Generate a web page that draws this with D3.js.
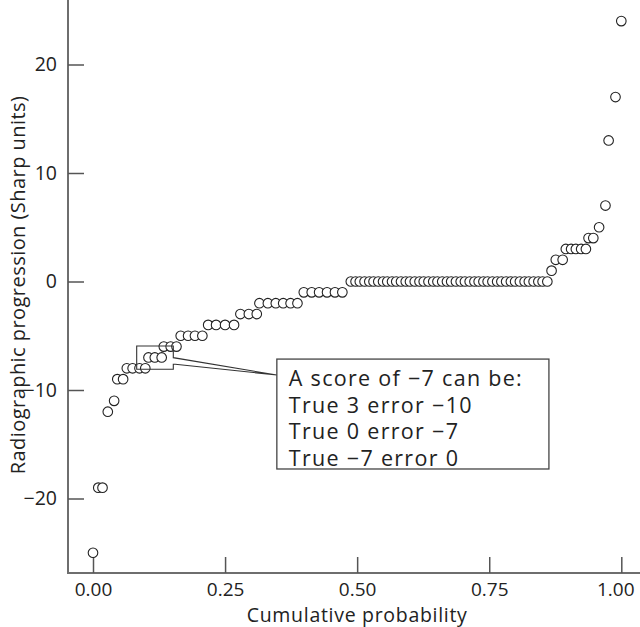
<!DOCTYPE html>
<html>
<head>
<meta charset="utf-8">
<script src="https://cdn.jsdelivr.net/npm/d3@7"></script>
<style>
  body { margin: 0; background: #fff; }
  text { font-family: "Open Sans", Lato, sans-serif; fill: #222; }
</style>
</head>
<body>
<div id="chart"></div>
<script>
// cumulative probability of each patient
const probs = [
  0.000,
  0.010, 0.018,
  0.028,
  0.040,
  0.046, 0.057,
  0.064, 0.075, 0.088, 0.099,
  0.105, 0.117, 0.130,
  0.134, 0.147, 0.158,
  0.166, 0.180, 0.193, 0.207,
  0.218, 0.233, 0.250, 0.267,
  0.279, 0.295, 0.310,
  0.315, 0.331, 0.346, 0.360, 0.374, 0.387,
  0.399, 0.414, 0.428, 0.443, 0.458, 0.472,
  0.488, 0.497, 0.505, 0.514, 0.523, 0.531, 0.540, 0.549, 0.557, 0.566,
  0.574, 0.583, 0.592, 0.600, 0.609, 0.618, 0.626, 0.635, 0.644, 0.652,
  0.661, 0.670, 0.678, 0.687, 0.696, 0.704, 0.713, 0.722, 0.730, 0.739,
  0.747, 0.756, 0.765, 0.773, 0.782, 0.791, 0.799, 0.808, 0.817, 0.825,
  0.834, 0.843, 0.851, 0.860,
  0.868,
  0.876, 0.889,
  0.895, 0.905, 0.914, 0.924, 0.933,
  0.938, 0.947,
  0.958,
  0.970,
  0.976,
  0.989,
  1.000
];
// radiographic progression (Sharp units)
const scores = [
  -25,
  -19, -19,
  -12,
  -11,
  -9, -9,
  -8, -8, -8, -8,
  -7, -7, -7,
  -6, -6, -6,
  -5, -5, -5, -5,
  -4, -4, -4, -4,
  -3, -3, -3,
  -2, -2, -2, -2, -2, -2,
  -1, -1, -1, -1, -1, -1,
  0, 0, 0, 0, 0, 0, 0, 0, 0, 0,
  0, 0, 0, 0, 0, 0, 0, 0, 0, 0,
  0, 0, 0, 0, 0, 0, 0, 0, 0, 0,
  0, 0, 0, 0, 0, 0, 0, 0, 0, 0,
  0, 0, 0, 0,
  1,
  2, 2,
  3, 3, 3, 3, 3,
  4, 4,
  5,
  7,
  13,
  17,
  24
];
const xTicks = [0, 0.25, 0.5, 0.75, 1];
const yTicks = [-20, -10, 0, 10, 20];
const calloutLines = [
  'A score of \u22127 can be:',
  'True 3 error \u221210',
  'True 0 error \u22127',
  'True \u22127 error 0'
];
// annotation geometry in data units
const highlight = { x0: 0.0827, x1: 0.152, y0: -5.94, y1: -8.09, notchTop: -7.02, notchBottom: -7.63 };
const callout = { x0: 0.348, x1: 0.863, y0: -7.15, y1: -17.28, tipY: -8.62 };

const width = 640, height = 627;
const axisX = 68, axisY = 573;

const x = d3.scaleLinear().domain([0, 1]).range([93, 621.3]);
const y = d3.scaleLinear().domain([-20, 20]).range([498.5, 64.5]);

const svg = d3.select('#chart').append('svg')
  .attr('width', width)
  .attr('height', height);

// axis lines run off the top and right edge
svg.append('line')
  .attr('x1', axisX).attr('x2', axisX)
  .attr('y1', 0).attr('y2', axisY)
  .attr('stroke', '#6e6e6e').attr('stroke-width', 2);
svg.append('line')
  .attr('x1', axisX - 1).attr('x2', width)
  .attr('y1', axisY).attr('y2', axisY)
  .attr('stroke', '#6e6e6e').attr('stroke-width', 2);

const yAxis = svg.append('g')
  .attr('transform', 'translate(' + axisX + ',0)')
  .call(d3.axisLeft(y).tickValues(yTicks).tickSize(-16).tickPadding(11)
    .tickFormat(d => d < 0 ? '\u2212' + Math.abs(d) : d));
yAxis.select('.domain').remove();
yAxis.selectAll('line').attr('stroke', '#555').attr('stroke-width', 1.5);
yAxis.selectAll('text').style('font-size', '19.5px').attr('fill', '#222');

const xAxis = svg.append('g')
  .attr('transform', 'translate(0,' + axisY + ')')
  .call(d3.axisBottom(x).tickValues(xTicks).tickSize(-16).tickPadding(10)
    .tickFormat(d3.format('.2f')));
xAxis.select('.domain').remove();
xAxis.selectAll('line').attr('stroke', '#555').attr('stroke-width', 1.5);
xAxis.selectAll('text').style('font-size', '19px').attr('fill', '#222');
// keep the last label inside the picture, as in the original crop
xAxis.selectAll('.tick').filter(d => d === 1).select('text').attr('dx', -6);

// titles
svg.append('text')
  .attr('x', x(0.5)).attr('y', 622)
  .attr('text-anchor', 'middle')
  .style('font-size', '19.5px')
  .style('letter-spacing', '0.7px')
  .text('Cumulative probability');
svg.append('text')
  .attr('transform', 'translate(25,' + 285 + ') rotate(-90)')
  .attr('text-anchor', 'middle')
  .style('font-size', '20px')
  .style('letter-spacing', '0.45px')
  .text('Radiographic progression (Sharp units)');

// points, drawn in order so each covers the one before
svg.append('g').selectAll('circle')
  .data(d3.zip(probs, scores))
  .enter().append('circle')
  .attr('cx', d => x(d[0]))
  .attr('cy', d => y(d[1]))
  .attr('r', 4.8)
  .attr('fill', '#fff')
  .attr('stroke', '#222')
  .attr('stroke-width', 1.1);

// highlight box with pointer to the callout
const hx0 = x(highlight.x0), hx1 = x(highlight.x1);
const hy0 = y(highlight.y0), hy1 = y(highlight.y1);
const tipX = x(callout.x0), tipY = y(callout.tipY);
const pointer = d3.path();
pointer.moveTo(hx0, hy0);
pointer.lineTo(hx1, hy0);
pointer.lineTo(hx1, y(highlight.notchTop));
pointer.lineTo(tipX, tipY);
pointer.lineTo(hx1 + 2, y(highlight.notchBottom));
pointer.lineTo(hx1, y(highlight.notchBottom));
pointer.lineTo(hx1, hy1);
pointer.lineTo(hx0, hy1);
pointer.closePath();
svg.append('path')
  .attr('d', pointer.toString())
  .attr('fill', 'none')
  .attr('stroke', '#333')
  .attr('stroke-width', 1.1);

svg.append('rect')
  .attr('x', x(callout.x0))
  .attr('y', y(callout.y0))
  .attr('width', x(callout.x1) - x(callout.x0))
  .attr('height', y(callout.y1) - y(callout.y0))
  .attr('fill', '#fff')
  .attr('stroke', '#444')
  .attr('stroke-width', 1.3);

svg.append('g').selectAll('text')
  .data(calloutLines)
  .enter().append('text')
  .attr('x', x(callout.x0) + 12)
  .attr('y', (d, i) => y(callout.y0) + 27 + i * 26.5)
  .style('font-size', '21.5px')
  .style('letter-spacing', '1.3px')
  .text(d => d);
</script>
</body>
</html>
